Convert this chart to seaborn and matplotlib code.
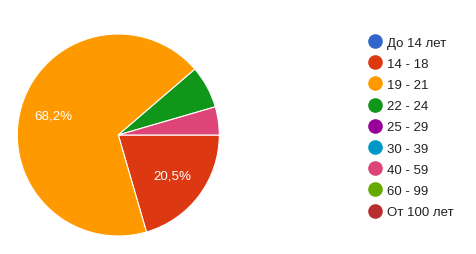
import matplotlib
matplotlib.use("Agg")
import matplotlib.pyplot as plt
import seaborn as sns
import numpy as np
from matplotlib.lines import Line2D

categories = ["До 14 лет", "14 - 18", "19 - 21", "22 - 24", "25 - 29",
              "30 - 39", "40 - 59", "60 - 99", "От 100 лет"]
shares = [0.0, 20.5, 68.2, 6.8, 0.0, 0.0, 4.5, 0.0, 0.0]
colors = ["#3366cc", "#dc3912", "#ff9900", "#109618", "#990099",
          "#0099c6", "#dd4477", "#66aa00", "#b82e2e"]

sns.set_theme(style="white")
plt.rcParams['font.family'] = ['Liberation Sans', 'DejaVu Sans']

fig = plt.figure(figsize=(4.77, 2.55), dpi=100)
W, H = 477, 255
cx, cy, r = 118.3, 136, 101
ax = fig.add_axes([(cx - r) / W, (H - cy - r) / H, 2 * r / W, 2 * r / H])

vals = [s for s in shares if s > 0]
cols = [c for s, c in zip(shares, colors) if s > 0]

def fmt(p):
    return (f"{p:.1f}%".replace(".", ",")) if p > 10 else ""

wedges, texts, autotexts = ax.pie(
    vals, colors=cols, startangle=0, counterclock=False,
    wedgeprops=dict(edgecolor="white", linewidth=0.8),
    autopct=fmt, pctdistance=0.67,
    textprops=dict(color="white", fontsize=9.6))
ax.set_xlim(-1, 1)
ax.set_ylim(-1, 1)
ax.set_aspect("equal")

handles = [Line2D([0], [0], marker="o", linestyle="none", markersize=9.5,
                  markerfacecolor=c, markeredgecolor=c) for c in colors]
leg = fig.legend(handles, categories, loc="upper left",
                 bbox_to_anchor=(359 / W, 1 - 32 / H), frameon=False,
                 fontsize=9.5, labelspacing=0.68, handletextpad=0.1,
                 handlelength=1.6, borderaxespad=0)
for t in leg.get_texts():
    t.set_color("#222222")

fig.savefig("out.png", dpi=100, facecolor="white")
